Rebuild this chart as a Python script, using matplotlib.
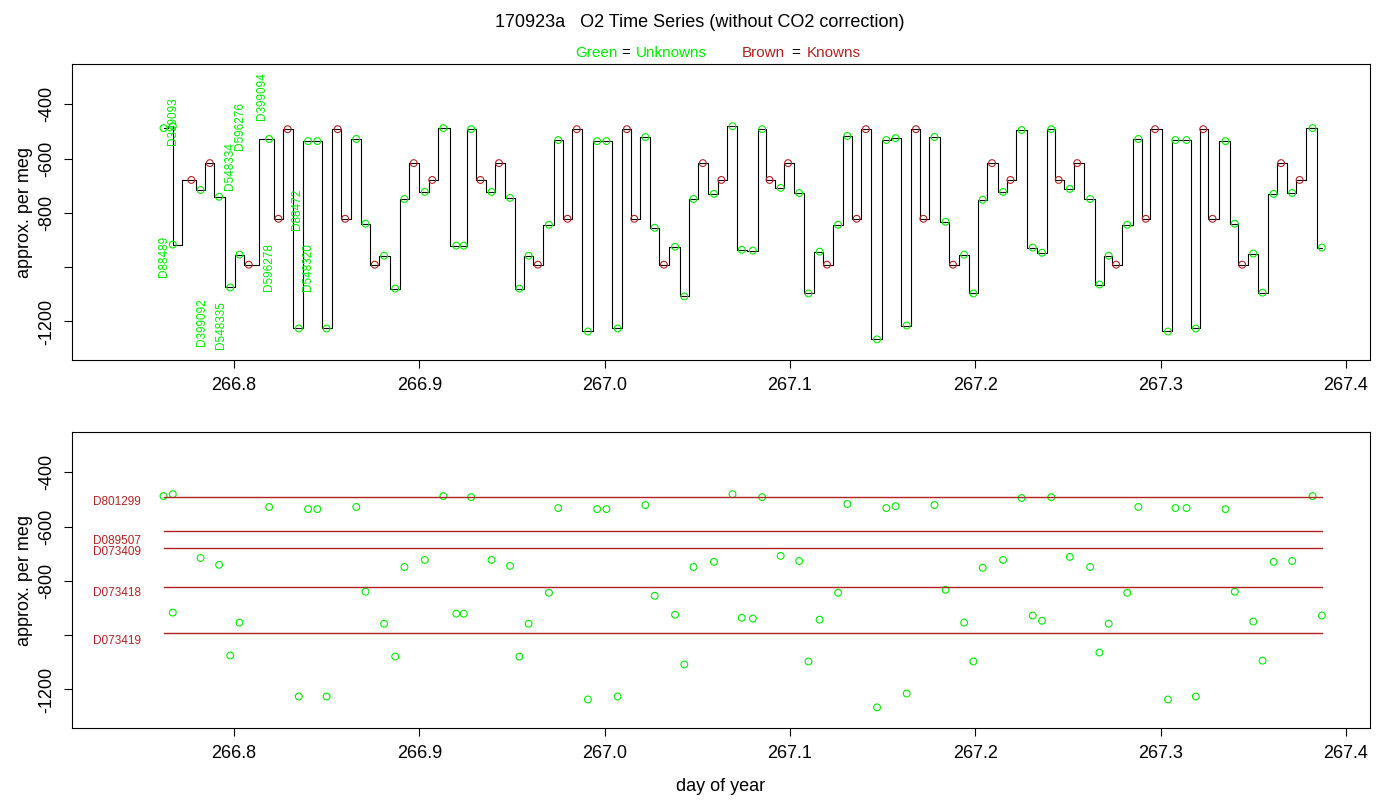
import numpy as np
import matplotlib
matplotlib.use("Agg")
import matplotlib.pyplot as plt

plt.rcParams["font.family"] = "Liberation Sans"

# unknowns (green): day of year and approx per meg
unk_t = [266.762, 266.767, 266.767, 266.782, 266.792, 266.803, 266.798, 266.819, 266.835, 266.840,
         266.845, 266.850, 266.866, 266.871, 266.881, 266.887, 266.892, 266.903, 266.913, 266.920,
         266.924, 266.928, 266.939, 266.949, 266.954, 266.959, 266.970, 266.975, 266.991, 266.996,
         267.001, 267.007, 267.022, 267.027, 267.038, 267.043, 267.048, 267.059, 267.069, 267.074,
         267.080, 267.085, 267.095, 267.105, 267.110, 267.116, 267.126, 267.131, 267.147, 267.152,
         267.157, 267.163, 267.178, 267.184, 267.194, 267.199, 267.204, 267.215, 267.225, 267.231,
         267.236, 267.241, 267.251, 267.262, 267.267, 267.272, 267.282, 267.288, 267.304, 267.308,
         267.314, 267.319, 267.335, 267.340, 267.350, 267.355, 267.361, 267.371, 267.382, 267.387]
unk_v = [-488, -481, -917, -716, -741, -954, -1075, -528, -1226, -536,
         -536, -1226, -528, -840, -958, -1079, -749, -723, -488, -921,
         -921, -492, -723, -745, -1079, -958, -844, -532, -1237, -536,
         -536, -1226, -521, -855, -925, -1108, -749, -730, -481, -936,
         -939, -492, -708, -727, -1097, -943, -844, -517, -1266, -532,
         -525, -1215, -521, -833, -954, -1097, -752, -723, -495, -928,
         -947, -492, -712, -749, -1064, -958, -844, -528, -1237, -532,
         -532, -1226, -536, -840, -950, -1094, -730, -727, -488, -928]

# reference gases (brown)
ref_names = ["D801299", "D089507", "D073409", "D073418", "D073419"]
ref_vals = [-492, -617, -679, -822, -991]
ref_label_y = [-510, -653, -694, -844, -1020]

known_t = [266.777, 266.787, 266.808, 266.824, 266.829, 266.856, 266.860, 266.876, 266.897, 266.907,
           266.933, 266.943, 266.964, 266.980, 266.985, 267.012, 267.016, 267.032, 267.053, 267.063,
           267.089, 267.099, 267.120, 267.136, 267.141, 267.168, 267.172, 267.188, 267.209, 267.219,
           267.245, 267.255, 267.276, 267.292, 267.297, 267.323, 267.328, 267.344, 267.365, 267.375]
known_ref = ["D073409", "D089507", "D073419", "D073418", "D801299",
             "D801299", "D073418", "D073419", "D089507", "D073409"] * 4

# sample id labels in top panel
lab_names = ["D88489", "D399093", "D399092", "D548335", "D548334",
             "D596276", "D399094", "D596278", "D88472", "D548320"]
lab_t = [266.762, 266.767, 266.783, 266.793, 266.798, 266.803, 266.815, 266.819, 266.834, 266.840]
lab_v = [-1038, -551, -1289, -1303, -717, -570, -459, -1089, -865, -1089]

known_v = [ref_vals[ref_names.index(n)] for n in known_ref]

green = "#00ee00"
brown = "#b22222"

fig = plt.figure(figsize=(14, 8), dpi=100)
ax1 = fig.add_axes([0.0514, 0.55, 0.9272, 0.37])
ax2 = fig.add_axes([0.0514, 0.09, 0.9272, 0.37])

# trace: step through all sampled levels
all_t = np.array(unk_t + known_t)
all_v = np.array(unk_v + known_v)
order = np.argsort(all_t)
ax1.step(all_t[order], all_v[order], where="mid", color="black", lw=0.8)
ax1.scatter(unk_t, unk_v, s=24, facecolors="none", edgecolors=green, lw=0.8, zorder=3)
ax1.scatter(known_t, known_v, s=24, facecolors="none", edgecolors=brown, lw=0.8, zorder=3)
for n, t, v in zip(lab_names, lab_t, lab_v):
    ax1.text(t, v, n, rotation=90, color=green, fontsize=8.5, ha="center", va="bottom")

for n, v, ly in zip(ref_names, ref_vals, ref_label_y):
    ax2.plot([unk_t[0], unk_t[-1]], [v, v], color=brown, lw=1)
    ax2.text(266.724, ly, n, color=brown, fontsize=8.5, va="center", ha="left")
ax2.scatter(unk_t, unk_v, s=24, facecolors="none", edgecolors=green, lw=0.8)

for ax in (ax1, ax2):
    ax.set_xlim(266.7126, 267.413)
    ax.set_ylim(-1342, -252)
    ax.set_yticks([-400, -600, -800, -1000, -1200])
    ax.set_yticklabels(["-400", "-600", "-800", "", "-1200"], rotation=90, va="center")
    ax.set_xticks([266.8, 266.9, 267.0, 267.1, 267.2, 267.3, 267.4])
    ax.set_xticklabels(["266.8", "266.9", "267.0", "267.1", "267.2", "267.3", "267.4"])
    ax.tick_params(labelsize=13, length=6, pad=6)
    ax.set_ylabel("approx. per meg", fontsize=13, labelpad=4)
    for s in ax.spines.values():
        s.set_linewidth(0.8)
ax2.set_xlabel("day of year", fontsize=13, labelpad=12)

fig.text(0.5, 0.972, "170923a   O2 Time Series (without CO2 correction)", ha="center", va="center", fontsize=13)
fig.text(0.411, 0.934, "Green", color=green, ha="left", va="center", fontsize=11)
fig.text(0.4435, 0.934, "=", color="black", ha="left", va="center", fontsize=11)
fig.text(0.4545, 0.934, "Unknowns", color=green, ha="left", va="center", fontsize=11)
fig.text(0.5295, 0.934, "Brown", color=brown, ha="left", va="center", fontsize=11)
fig.text(0.5655, 0.934, "=", color="black", ha="left", va="center", fontsize=11)
fig.text(0.5765, 0.934, "Knowns", color=brown, ha="left", va="center", fontsize=11)

fig.savefig("out.png")
